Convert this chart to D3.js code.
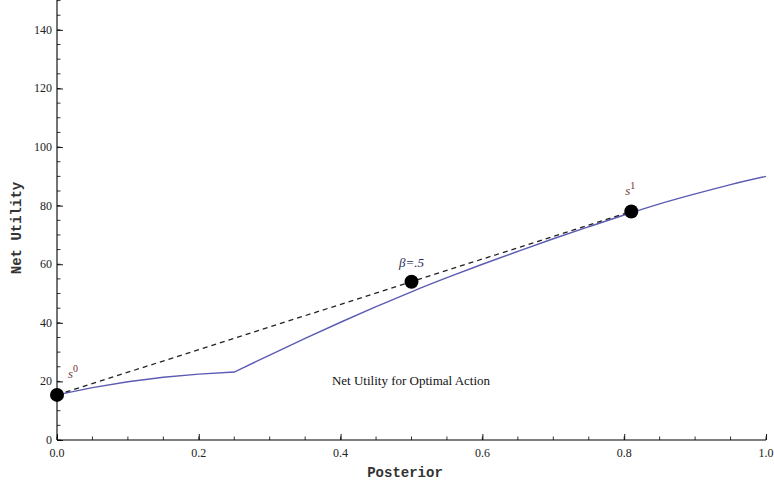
<!DOCTYPE html>
<html>
<head>
<meta charset="utf-8">
<script src="https://cdn.jsdelivr.net/npm/d3@7"></script>
<style>
  body { margin: 0; background: #fff; }
  text { font-family: "Liberation Serif", "DejaVu Serif", serif; }
</style>
</head>
<body>
<div id="chart"></div>
<script>
// posterior grid and net utility for the optimal action
var posterior = [0, 0.05, 0.1, 0.15, 0.2, 0.25, 0.3, 0.35, 0.4, 0.45, 0.5, 0.55,
                 0.6, 0.65, 0.7, 0.75, 0.8, 0.85, 0.9, 0.95, 1.0];
var netUtility = [15.4, 17.9, 19.9, 21.4, 22.5, 23.2, 29.0, 34.7, 40.2, 45.5, 50.6, 55.4,
                  60.0, 64.4, 68.7, 72.8, 76.8, 80.6, 84.0, 87.2, 90.0];

// signal points s0, s1 and the mixture at beta = .5
var signalX = [0, 0.81];
var signalY = [15.4, 78.0];
var betaX = 0.5;
var betaY = 54.0;

var xTicks = [0, 0.2, 0.4, 0.6, 0.8, 1.0];
var yTicks = [0, 20, 40, 60, 80, 100, 120, 140];

var svgWidth = 774, svgHeight = 484;
var svg = d3.select("#chart").append("svg")
    .attr("width", svgWidth)
    .attr("height", svgHeight);

var x = d3.scaleLinear().domain([0, 1]).range([57, 766]);
var y = d3.scaleLinear().domain([0, 150]).range([440, 0.6]);

// minor ticks
svg.append("g").selectAll("line")
    .data(d3.range(0, 1.0001, 0.05))
    .enter().append("line")
    .attr("x1", d => x(d)).attr("x2", d => x(d))
    .attr("y1", 440).attr("y2", 436.5)
    .attr("stroke", "#000").attr("stroke-width", 0.8);

svg.append("g").selectAll("line")
    .data(d3.range(0, 151, 5))
    .enter().append("line")
    .attr("y1", d => y(d)).attr("y2", d => y(d))
    .attr("x1", 57).attr("x2", 60.5)
    .attr("stroke", "#000").attr("stroke-width", 0.8);

// major ticks, inward
var xAxis = d3.axisTop(x).tickValues(xTicks).tickSize(6).tickFormat("");
svg.append("g").attr("transform", "translate(0,440)").call(xAxis)
    .call(g => g.select(".domain").remove());
var yAxis = d3.axisRight(y).tickValues(yTicks).tickSize(6).tickFormat("");
svg.append("g").attr("transform", "translate(57,0)").call(yAxis)
    .call(g => g.select(".domain").remove());
svg.selectAll(".tick line").attr("stroke", "#000").attr("stroke-width", 0.9);

// axis lines
svg.append("line").attr("x1", x(0)).attr("x2", x(1)).attr("y1", 440).attr("y2", 440)
    .attr("stroke", "#000").attr("stroke-width", 1.1);
svg.append("line").attr("x1", 57).attr("x2", 57).attr("y1", 440).attr("y2", 0)
    .attr("stroke", "#000").attr("stroke-width", 1.1);

// tick labels
svg.append("g").selectAll("text")
    .data(xTicks).enter().append("text")
    .attr("x", d => x(d)).attr("y", 457)
    .attr("text-anchor", "middle")
    .attr("font-size", 12).attr("fill", "#222")
    .text(d => d.toFixed(1));

svg.append("g").selectAll("text")
    .data(yTicks).enter().append("text")
    .attr("x", 52).attr("y", d => y(d) + 4)
    .attr("text-anchor", "end")
    .attr("font-size", 12).attr("fill", "#222")
    .text(d => d);

// axis titles
svg.append("text")
    .attr("x", 405).attr("y", 477)
    .attr("text-anchor", "middle")
    .style("font-family", "'Courier New', 'Liberation Mono', monospace")
    .attr("font-size", 14).attr("font-weight", "bold").attr("fill", "#333")
    .text("Posterior");

svg.append("text")
    .attr("transform", "translate(21,228) rotate(-90)")
    .attr("text-anchor", "middle")
    .style("font-family", "'Courier New', 'Liberation Mono', monospace")
    .attr("font-size", 14).attr("font-weight", "bold").attr("fill", "#333")
    .text("Net Utility");

// utility curve: straight up to the kink at .25, smooth afterwards
var line = d3.line().x(d => x(d[0])).y(d => y(d[1])).curve(d3.curveMonotoneX);
var pts = posterior.map((p, i) => [p, netUtility[i]]);
svg.append("path")
    .attr("d", d3.line().x(d => x(d[0])).y(d => y(d[1]))
        .curve(d3.curveLinear)(pts.slice(0, 6)) +
        line(pts.slice(5)).replace(/^M/, "L"))
    .attr("fill", "none")
    .attr("stroke", "#5b5bb4")
    .attr("stroke-width", 1.4);

// dashed chord between signals
svg.append("line")
    .attr("x1", x(signalX[0])).attr("y1", y(signalY[0]))
    .attr("x2", x(signalX[1])).attr("y2", y(signalY[1]))
    .attr("stroke", "#222").attr("stroke-width", 1.3)
    .attr("stroke-dasharray", "5,4");

// points
var dots = [[signalX[0], signalY[0]], [betaX, betaY], [signalX[1], signalY[1]]];
svg.append("g").selectAll("circle")
    .data(dots).enter().append("circle")
    .attr("cx", d => x(d[0])).attr("cy", d => y(d[1]))
    .attr("r", 7).attr("fill", "#000");

// labels
function sLabel(px, py, sup) {
    var t = svg.append("text").attr("x", px).attr("y", py)
        .attr("font-size", 13).attr("font-style", "italic").attr("fill", "#6b3a3a");
    t.append("tspan").text("s");
    t.append("tspan").attr("dy", -6).attr("font-size", 10).attr("font-style", "normal")
        .attr("fill", "#7a2a2a").text(sup);
}
sLabel(x(signalX[0]) + 11, y(signalY[0]) - 17, "0");
sLabel(x(signalX[1]) - 6, y(signalY[1]) - 17, "1");

svg.append("text")
    .attr("x", x(betaX)).attr("y", y(betaY) - 15)
    .attr("text-anchor", "middle")
    .attr("font-size", 13).attr("font-style", "italic").attr("fill", "#2a2a5a")
    .text("β=.5");

svg.append("text")
    .attr("x", 411).attr("y", 385)
    .attr("text-anchor", "middle")
    .attr("font-size", 13).attr("fill", "#111")
    .text("Net Utility for Optimal Action");
</script>
</body>
</html>
